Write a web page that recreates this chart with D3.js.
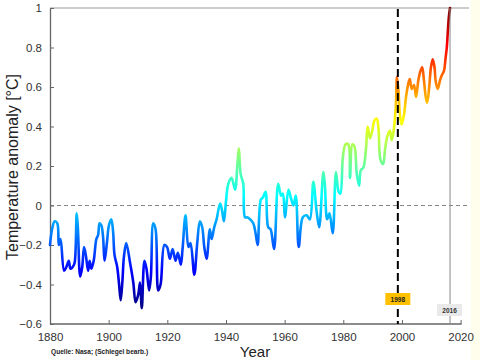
<!DOCTYPE html>
<html>
<head>
<meta charset="utf-8">
<script src="https://cdn.jsdelivr.net/npm/d3@7"></script>
<style>
html,body{margin:0;padding:0;background:#fff;}
svg{display:block;font-family:"Liberation Sans",Arial,sans-serif;}
</style>
</head>
<body>
<svg id="c" width="480" height="360"></svg>
<script>
const years = [1880.0,1880.7,1881.6,1882.5,1883.0,1883.6,1884.8,1885.6,1886.4,1887.0,1887.8,1888.4,1889.1,1889.5,1890.3,1891.0,1891.6,1892.2,1893.0,1893.5,1894.1,1894.9,1895.8,1896.4,1896.9,1897.5,1898.1,1898.6,1899.4,1900.1,1900.9,1901.5,1902.0,1902.9,1903.5,1904.1,1904.7,1905.2,1906.0,1907.3,1908.4,1909.2,1910.1,1910.7,1911.3,1912.2,1912.9,1913.8,1914.4,1915.2,1916.0,1916.9,1917.7,1919.0,1919.9,1920.9,1921.8,1922.8,1923.6,1924.6,1925.2,1926.2,1927.2,1927.9,1929.2,1930.2,1931.1,1931.9,1932.6,1933.4,1934.5,1935.1,1936.0,1936.8,1938.0,1938.6,1939.3,1940.0,1940.8,1941.9,1943.1,1943.9,1944.4,1945.0,1945.9,1946.5,1947.2,1948.2,1949.3,1950.1,1950.8,1951.9,1952.6,1953.5,1954.4,1955.2,1956.4,1957.8,1958.8,1959.4,1960.1,1961.3,1962.1,1963.0,1963.8,1964.8,1966.2,1967.5,1968.6,1969.8,1970.9,1971.8,1973.2,1973.7,1974.5,1975.3,1976.4,1977.5,1978.4,1979.0,1979.9,1980.8,1981.7,1982.3,1983.1,1983.8,1984.6,1985.4,1986.0,1986.8,1987.7,1988.3,1989.1,1989.9,1990.6,1991.4,1992.0,1992.7,1993.6,1994.2,1995.0,1995.9,1996.5,1997.1,1997.9,1998.3,1998.8,1999.3,1999.9,2000.7,2001.4,2002.2,2002.7,2003.3,2004.1,2004.8,2005.6,2006.3,2006.9,2007.5,2008.1,2008.6,2009.3,2009.9,2010.5,2011.1,2011.5,2012.2,2013.0,2013.6,2014.3,2014.9,2015.3,2015.6,2016.0,2016.4];
const anomaly = [-0.20,-0.12,-0.08,-0.09,-0.20,-0.17,-0.33,-0.31,-0.28,-0.32,-0.31,-0.29,-0.04,-0.11,-0.36,-0.31,-0.21,-0.25,-0.33,-0.28,-0.32,-0.28,-0.17,-0.15,-0.09,-0.10,-0.16,-0.28,-0.19,-0.10,-0.07,-0.13,-0.25,-0.31,-0.39,-0.48,-0.38,-0.26,-0.19,-0.29,-0.39,-0.49,-0.45,-0.39,-0.52,-0.28,-0.32,-0.43,-0.36,-0.09,-0.12,-0.43,-0.40,-0.20,-0.21,-0.27,-0.22,-0.28,-0.24,-0.30,-0.22,-0.05,-0.21,-0.19,-0.35,-0.19,-0.08,-0.11,-0.21,-0.27,-0.12,-0.17,-0.11,-0.07,0.01,-0.02,-0.08,0.02,0.11,0.14,0.08,0.21,0.29,0.16,0.11,-0.06,-0.06,-0.07,-0.09,-0.14,-0.20,0.03,0.04,0.07,-0.11,-0.12,-0.22,0.11,0.05,0.06,-0.06,0.08,0.04,0.00,0.05,-0.21,-0.06,-0.05,-0.07,0.12,-0.03,-0.11,0.17,0.11,-0.07,-0.04,-0.14,0.17,0.07,0.06,0.25,0.31,0.31,0.14,0.31,0.30,0.16,0.10,0.18,0.19,0.28,0.40,0.34,0.38,0.43,0.44,0.39,0.23,0.21,0.28,0.35,0.38,0.33,0.37,0.50,0.65,0.58,0.46,0.41,0.46,0.55,0.62,0.64,0.59,0.61,0.55,0.635,0.68,0.70,0.635,0.55,0.52,0.60,0.70,0.74,0.70,0.63,0.59,0.635,0.66,0.68,0.75,0.80,0.87,0.955,1.00];
const xTicks = [1880,1900,1920,1940,1960,1980,2000,2020];
const yTicks = [-0.6,-0.4,-0.2,0,0.2,0.4,0.6,0.8,1];
const markers = [{year:1998.6,label:"1998"},{year:2016.4,label:"2016"}];
const sourceText = "Quelle: Nasa; (Schlegel bearb.)";

const svg = d3.select("#c");
const x = d3.scaleLinear().domain([1880,2020]).range([50,460.6]);
const y = d3.scaleLinear().domain([-0.6,1]).range([324,8]);

// faint right edge tint
svg.append("rect").attr("x",471).attr("y",0).attr("width",9).attr("height",360).attr("fill","#fffdeb");

// jet gradient by value
function jet(t){
  const r = Math.max(0,Math.min(1,Math.min(4*t-1.5,-4*t+4.5)));
  const g = Math.max(0,Math.min(1,Math.min(4*t-0.5,-4*t+3.5)));
  const b = Math.max(0,Math.min(1,Math.min(4*t+0.5,-4*t+2.5)));
  return d3.rgb(r*255,g*255,b*255).formatHex();
}
const vmin=-0.52, vmax=1.0;
const grad = svg.append("defs").append("linearGradient").attr("id","jet")
  .attr("gradientUnits","userSpaceOnUse").attr("x1",0).attr("x2",0)
  .attr("y1",y(vmin)).attr("y2",y(vmax));
d3.range(0,1.0001,0.025).forEach(t=>{
  grad.append("stop").attr("offset",t).attr("stop-color",jet(t));
});

// top border
svg.append("line").attr("x1",50).attr("x2",469).attr("y1",y(1)).attr("y2",y(1))
  .attr("stroke","#999").attr("stroke-width",1);

// zero line
svg.append("line").attr("x1",50).attr("x2",469).attr("y1",y(0)).attr("y2",y(0))
  .attr("stroke","#777").attr("stroke-width",0.9).attr("stroke-dasharray","4,3");

// axes
const xAxis = d3.axisBottom(x).tickValues(xTicks).tickFormat(d3.format("d")).tickSizeInner(-4).tickSizeOuter(0).tickPadding(9);
const gx = svg.append("g").attr("transform",`translate(0,${y(-0.6)})`).call(xAxis);
const yAxis = d3.axisLeft(y).tickValues(yTicks).tickFormat(d=>d===0?"0":(d<0?"\u2212":"")+String(Math.abs(d))).tickSizeInner(-4).tickSizeOuter(0).tickPadding(8);
const gy = svg.append("g").attr("transform",`translate(${x(1880)},0)`).call(yAxis);
[gx,gy].forEach(g=>{
  g.select(".domain").attr("stroke","#666").attr("stroke-width",1.3);
  g.selectAll(".tick line").attr("stroke","#666").attr("stroke-width",1);
  g.selectAll(".tick text").attr("fill","#333").attr("font-size",11.5).attr("font-family","Liberation Sans, Arial, sans-serif");
});
gx.select(".domain").attr("d",`M${x(1880)},0H${x(2020)+1}`);

// data line
const pts = years.map((yr,i)=>[yr,anomaly[i]]);
const line = d3.line().x(d=>x(d[0])).y(d=>y(d[1])).curve(d3.curveCatmullRom.alpha(0.5));
svg.append("path").datum(pts).attr("d",line).attr("fill","none")
  .attr("stroke","url(#jet)").attr("stroke-width",2.6).attr("stroke-linejoin","round").attr("stroke-linecap","round");

// marker lines
svg.append("line").attr("x1",x(markers[1].year)).attr("x2",x(markers[1].year)).attr("y1",y(1)).attr("y2",y(-0.6))
  .attr("stroke","#888").attr("stroke-width",1);
svg.append("line").attr("x1",x(markers[0].year)).attr("x2",x(markers[0].year)).attr("y1",y(1)+1).attr("y2",y(-0.6))
  .attr("stroke","#000").attr("stroke-width",2).attr("stroke-dasharray","8,4");

// label boxes
const b1x = x(markers[0].year)-12.5;
svg.append("rect").attr("x",b1x).attr("y",293).attr("width",25).attr("height",12).attr("fill","#ffc000");
svg.append("text").attr("x",b1x+12.5).attr("y",301.5).attr("text-anchor","middle").attr("font-size",6.5).attr("font-weight","bold").attr("fill","#222").text(markers[0].label);
const b2x = x(markers[1].year)-13;
svg.append("rect").attr("x",b2x).attr("y",304).attr("width",25).attr("height",12).attr("fill","#e9e9e9");
svg.append("text").attr("x",b2x+12.5).attr("y",312.5).attr("text-anchor","middle").attr("font-size",6.5).attr("font-weight","bold").attr("fill","#333").text(markers[1].label);

// axis titles
svg.append("text").attr("x",255).attr("y",357).attr("text-anchor","middle").attr("font-size",15).attr("fill","#222").text("Year");
svg.append("text").attr("transform","translate(18,167) rotate(-90)").attr("text-anchor","middle").attr("font-size",16).attr("fill","#222").text("Temperature anomaly [°C]");

// source
svg.append("text").attr("x",51).attr("y",353.5).attr("font-size",6.6).attr("font-weight","bold").attr("fill","#222").text(sourceText);
</script>
</body>
</html>
